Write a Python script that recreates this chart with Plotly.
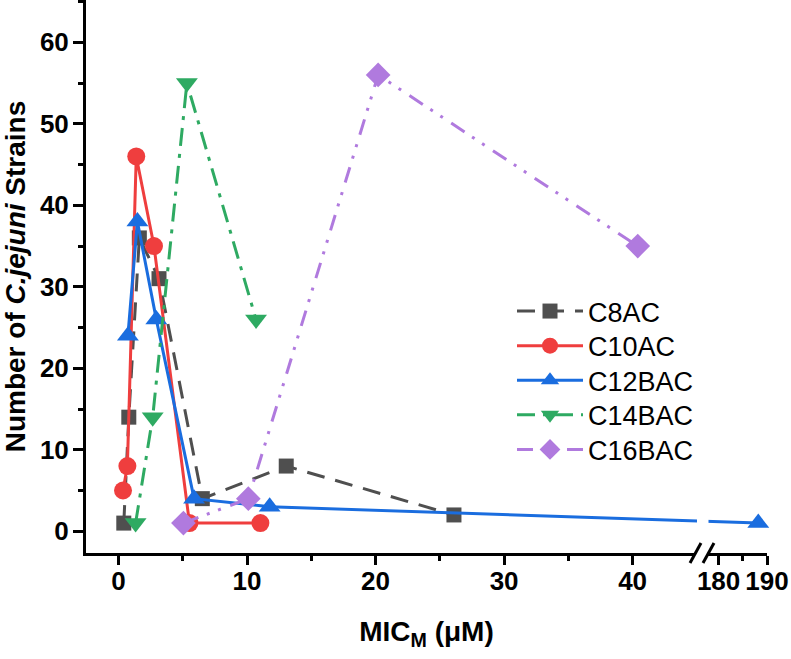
import plotly.graph_objects as go

# ---------------- data ----------------
series_names = ["C8AC", "C10AC", "C12BAC", "C14BAC", "C16BAC"]

c8_x = [0.41, 0.80, 1.62, 3.15, 6.52, 13.05, 26.1]
c8_y = [1, 14, 36, 31, 4, 8, 2]

c10_x = [0.35, 0.69, 1.38, 2.76, 5.52, 11.04]
c10_y = [5, 8, 46, 35, 1, 1]

c12_x = [0.73, 1.47, 2.94, 5.88, 11.76, 188.2]
c12_y = [24, 38, 26, 4, 3, 1]

c14_x = [1.33, 2.66, 5.32, 10.7]
c14_y = [1, 14, 55, 26]

c16_x = [5.05, 10.1, 20.2, 40.4]
c16_y = [1, 4, 56, 35]

x_tick_values = [0, 10, 20, 30, 40, 180, 190]
x_tick_labels = ["0", "10", "20", "30", "40", "180", "190"]
x_minor_values = [5, 15, 25, 35, 185]
y_tick_values = [0, 10, 20, 30, 40, 50, 60]

# ---------------- broken x-axis scale ----------------
SEG2_START = 180.0      # value placed right after the break
SEG2_POS = 46.69        # display position of SEG2_START
SEG2_SCALE = 0.3767     # compression of the second segment


def brk(v):
    return v if v < 100 else SEG2_POS + (v - SEG2_START) * SEG2_SCALE


def brk_list(vals):
    return [brk(v) for v in vals]


FONT = "Arial, Liberation Sans, sans-serif"

styles = [
    dict(color="#4f4f4f", dash="18px,11px", symbol="square", size=15),
    dict(color="#ef3e3e", dash="solid", symbol="circle", size=18),
    dict(color="#1a6ddf", dash="solid", symbol="triangle-up", size=19),
    dict(color="#2eaa62", dash="18px,8px,4px,8px", symbol="triangle-down", size=19),
    dict(color="#b07ade", dash="16px,9px,3px,9px,3px,10px", symbol="diamond", size=19),
]

xs = [c8_x, c10_x, c12_x, c14_x, c16_x]
ys = [c8_y, c10_y, c12_y, c14_y, c16_y]
legend_ids = ["legend", "legend2", "legend3", "legend4", "legend5"]

fig = go.Figure()
for name, x, y, st, lg in zip(series_names, xs, ys, styles, legend_ids):
    fig.add_trace(go.Scatter(
        x=brk_list(x), y=y, name=name, mode="lines+markers",
        line=dict(color=st["color"], width=3, dash=st["dash"]),
        marker=dict(color=st["color"], symbol=st["symbol"], size=st["size"], line=dict(width=0)),
        cliponaxis=False, legend=lg,
    ))

# ---------------- axis break decoration ----------------
W, H = 681.0, 553.0
L = 86.0


def px(xp):
    return (xp - L) / W


def py(yp):
    return (H - yp) / H


shapes = [
    # gap in the data line at the break
    dict(type="rect", xref="paper", yref="paper",
         x0=px(697), x1=px(708.5), y0=py(532), y1=py(510),
         fillcolor="white", line=dict(width=0), layer="above"),
    # gap in the axis line
    dict(type="path", xref="paper", yref="paper",
         path=f"M {px(690)},{py(563)} L {px(701)},{py(543)} L {px(714)},{py(543)} L {px(703)},{py(563)} Z",
         fillcolor="white", line=dict(width=0), layer="above"),
    dict(type="line", xref="paper", yref="paper",
         x0=px(690), y0=py(563), x1=px(701), y1=py(543),
         line=dict(color="black", width=3), layer="above"),
    dict(type="line", xref="paper", yref="paper",
         x0=px(703), y0=py(563), x1=px(714), y1=py(543),
         line=dict(color="black", width=3), layer="above"),
]

legend_rows = [311.5, 346.1, 380.7, 415.3, 449.9]
legend_layout = {}
for lg, row in zip(legend_ids, legend_rows):
    legend_layout[lg] = dict(
        x=px(512), y=py(row), xanchor="left", yanchor="middle",
        font=dict(family=FONT, size=27, color="black"),
        bgcolor="rgba(0,0,0,0)", borderwidth=0,
        itemwidth=66, tracegroupgap=0,
    )

fig.update_layout(
    width=791, height=659,
    margin=dict(l=86, r=24, t=0, b=106),
    paper_bgcolor="white", plot_bgcolor="white",
    font=dict(family=FONT, color="black"),
    showlegend=True,
    shapes=shapes,
    **legend_layout,
)

fig.update_xaxes(
    range=[-2.53, brk(190)],
    tickmode="array", tickvals=brk_list(x_tick_values), ticktext=x_tick_labels,
    ticks="outside", ticklen=9, tickwidth=3, tickcolor="black",
    minor=dict(tickmode="array", tickvals=brk_list(x_minor_values), ticks="outside",
               ticklen=5, tickwidth=3, tickcolor="black"),
    showline=True, linewidth=3, linecolor="black", mirror=False,
    showgrid=False, zeroline=False,
    tickfont=dict(family=FONT, size=26, color="black", weight="bold"),
    ticklabelstandoff=-6,
    title=dict(text="MIC<sub>M</sub> (μM)", font=dict(family=FONT, size=28, color="black", weight="bold"),
               standoff=27),
    automargin=False,
)

fig.update_yaxes(
    range=[-2.67, 65.2],
    tickmode="array", tickvals=y_tick_values,
    ticks="outside", ticklen=10, tickwidth=3, tickcolor="black",
    minor=dict(dtick=5, tick0=0, ticks="outside", ticklen=5, tickwidth=3, tickcolor="black"),
    showline=True, linewidth=3, linecolor="black", mirror=False,
    showgrid=False, zeroline=False,
    tickfont=dict(family=FONT, size=26, color="black", weight="bold"),
    ticklabelstandoff=-1,
    title=dict(text="Number of <i>C.jejuni</i> Strains",
               font=dict(family=FONT, size=28, color="black", weight="bold"), standoff=10),
    automargin=False,
)

fig.write_html("out.html", config={"displayModeBar": False},
               post_script="document.body.style.margin='0';")
